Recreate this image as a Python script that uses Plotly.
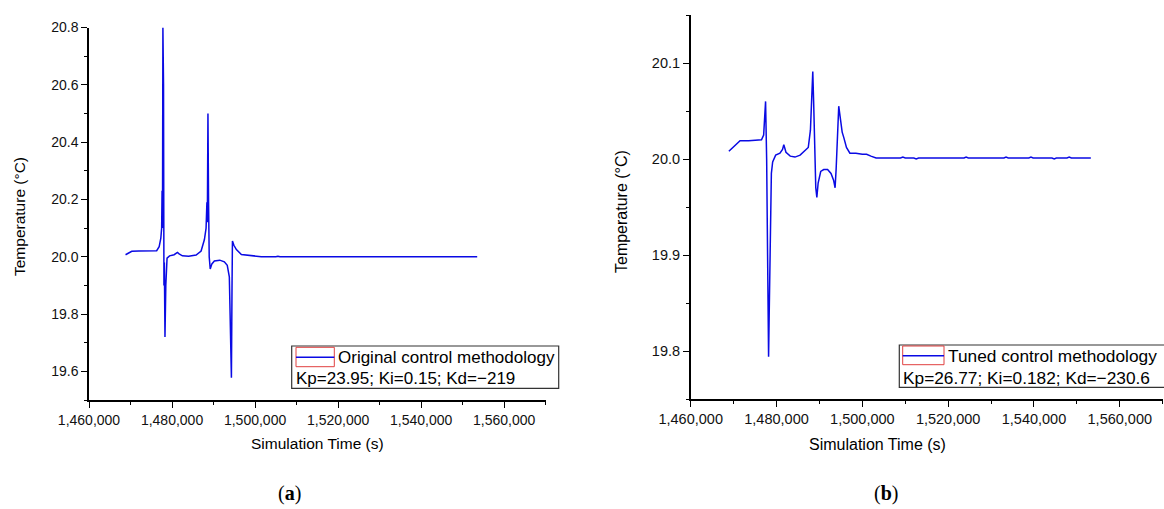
import plotly.graph_objects as go

# ---------------- data ----------------
time_a = [1468800, 1469500, 1470300, 1472000, 1474000, 1476300, 1476900, 1477300,
          1477500, 1477600, 1477700, 1477800, 1477950, 1478050, 1478150, 1478300,
          1478500, 1478800, 1479400, 1480500, 1481300, 1481700, 1482500, 1484000,
          1485800, 1487000, 1487800, 1488200, 1488400, 1488500, 1488650, 1488800,
          1488950, 1489200, 1489600, 1490200, 1491500, 1492600, 1493300, 1493800,
          1494000, 1494300, 1494450, 1494550, 1494900, 1495500, 1496700, 1498500,
          1500000, 1501500, 1505000, 1505500, 1506000, 1511000, 1511500, 1512000,
          1520600, 1521100, 1521600, 1528600, 1529100, 1529600, 1539500, 1540000,
          1540500, 1541500, 1542000, 1542500, 1553500]
temp_a = [20.007, 20.012, 20.019, 20.020, 20.020, 20.021, 20.035, 20.065,
          20.10, 20.23, 20.10, 20.80, 20.60, 19.90, 19.98, 19.72,
          19.90, 19.995, 20.003, 20.007, 20.015, 20.010, 20.003, 20.002,
          20.006, 20.02, 20.06, 20.10, 20.19, 20.12, 20.50, 20.19,
          20.00, 19.957, 19.975, 19.985, 19.988, 19.982, 19.970, 19.930,
          19.78, 19.578, 19.90, 20.055, 20.040, 20.025, 20.008, 20.005,
          20.002, 20.000, 20.000, 20.002, 20.000, 20.000, 20.002, 20.000,
          20.000, 20.002, 20.000, 20.000, 20.002, 20.000, 20.000, 20.002,
          20.000, 20.000, 20.002, 20.000, 20.000]

time_b = [1468900, 1470000, 1471500, 1473500, 1476500, 1477000, 1477450, 1477700,
          1477900, 1478150, 1478300, 1478450, 1478600, 1478800, 1479100, 1479800,
          1480800, 1481400, 1481700, 1482200, 1483200, 1484300, 1485500, 1486800,
          1487400, 1487900, 1488300, 1488450, 1488650, 1488900, 1489150, 1489400,
          1489700, 1490300, 1491000, 1491900, 1492700, 1493300, 1493650, 1493900,
          1494200, 1494500, 1494800, 1495300, 1495700, 1496300, 1497100, 1498500,
          1500000, 1501000, 1502000, 1503200, 1508900, 1509440, 1510000, 1512000,
          1512560, 1513100, 1523700, 1524190, 1524700, 1533000, 1533490, 1534000,
          1538800, 1539300, 1539800, 1544200, 1544720, 1545200, 1547700, 1548210,
          1548700, 1553250]
temp_b = [20.008, 20.013, 20.019, 20.019, 20.020, 20.025, 20.060, 20.000,
          19.900, 19.794, 19.840, 19.880, 19.950, 19.985, 19.997, 20.004,
          20.006, 20.010, 20.015, 20.007, 20.003, 20.002, 20.004, 20.009,
          20.012, 20.030, 20.070, 20.091, 20.060, 20.000, 19.970, 19.960,
          19.975, 19.987, 19.989, 19.989, 19.985, 19.978, 19.970, 19.990,
          20.030, 20.055, 20.045, 20.028, 20.022, 20.012, 20.006, 20.006,
          20.005, 20.005, 20.003, 20.001, 20.001, 20.002, 20.001, 20.001,
          20.000, 20.001, 20.001, 20.002, 20.001, 20.001, 20.002, 20.001,
          20.001, 20.002, 20.001, 20.001, 20.000, 20.001, 20.001, 20.002,
          20.001, 20.001]

legend_a = ["Original control methodology", "Kp=23.95; Ki=0.15; Kd=\u2212219"]
legend_b = ["Tuned control methodology", "Kp=26.77; Ki=0.182; Kd=\u2212230.6"]
x_title = "Simulation Time (s)"
y_title = "Temperature (\u00b0C)"
captions = ["(<b>a</b>)", "(<b>b</b>)"]

# ---------------- layout helpers ----------------
W, H = 1164, 509
def px(x):
    return x / W
def py(y):
    return 1 - y / H

LINE_COLOR = "rgb(10,10,228)"
FONT = "Liberation Sans, Arial, sans-serif"

fig = go.Figure()
fig.add_trace(go.Scatter(x=time_a, y=temp_a, mode="lines", xaxis="x", yaxis="y",
                         line=dict(color=LINE_COLOR, width=1.5), showlegend=False))
fig.add_trace(go.Scatter(x=time_b, y=temp_b, mode="lines", xaxis="x2", yaxis="y2",
                         line=dict(color=LINE_COLOR, width=1.5), showlegend=False))

def xax(domain, fs, anchor):
    return dict(domain=domain, range=[1460000, 1570000], tick0=1460000, dtick=20000,
                tickformat=",d", showgrid=False, zeroline=False, showline=True,
                anchor=anchor, automargin=False,
                linecolor="black", linewidth=1.5, ticks="outside", ticklen=6,
                tickwidth=1.3, tickcolor="black",
                minor=dict(ticks="outside", ticklen=3, dtick=10000, tickcolor="black",
                           tickwidth=1.3, showgrid=False),
                tickfont=dict(family=FONT, size=fs, color="#111"), fixedrange=True)

def yax(domain, rng, tick0, dtick, mdtick, fs, anchor):
    return dict(domain=domain, range=rng, tick0=tick0, dtick=dtick, tickformat=".1f",
                showgrid=False, zeroline=False, showline=True, anchor=anchor,
                automargin=False,
                linecolor="black", linewidth=1.5, ticks="outside", ticklen=6,
                tickwidth=1.3, tickcolor="black",
                minor=dict(ticks="outside", ticklen=3, dtick=mdtick, tickcolor="black",
                           tickwidth=1.3, showgrid=False),
                tickfont=dict(family=FONT, size=fs, color="#111"), fixedrange=True)

fig.update_layout(
    width=W, height=H,
    margin=dict(l=0, r=0, t=0, b=0, autoexpand=False),
    paper_bgcolor="white", plot_bgcolor="white",
    showlegend=False,
    xaxis=xax([px(89), px(545.7)], 14, "y"),
    yaxis=yax([py(400), py(27.5)], [19.5, 20.8], 19.6, 0.2, 0.1, 14, "x"),
    xaxis2=xax([px(690.7), px(1162.7)], 14.5, "y2"),
    yaxis2=yax([py(399), py(15)], [19.75, 20.15], 19.8, 0.1, 0.05, 14.5, "x2"),
)

annotations = []
shapes = []

def add_text(x, y, text, size, xanchor="center", angle=0, family=FONT):
    annotations.append(dict(x=px(x), y=py(y), xref="paper", yref="paper", text=text,
                            showarrow=False, xanchor=xanchor, yanchor="middle",
                            textangle=angle, font=dict(family=family, size=size, color="black")))

# axis titles
add_text(19, 217, y_title, 15.5, angle=-90)
add_text(317, 443, x_title, 15.5)
add_text(621, 212, y_title, 16, angle=-90)
add_text(877, 444, x_title, 16)

# captions
add_text(289.5, 493, captions[0], 20, family="Liberation Serif, Times New Roman, serif")
add_text(886, 493, captions[1], 20, family="Liberation Serif, Times New Roman, serif")

def add_legend(box, red, line_y, t1, t2, y2, fs):
    bx0, by0, bx1, by1 = box
    shapes.append(dict(type="rect", xref="paper", yref="paper",
                       x0=px(bx0), x1=px(bx1), y0=py(by1), y1=py(by0),
                       line=dict(color="#333", width=1.2), fillcolor="white"))
    rx0, ry0, rx1, ry1 = red
    shapes.append(dict(type="rect", xref="paper", yref="paper",
                       x0=px(rx0), x1=px(rx1), y0=py(ry1), y1=py(ry0),
                       line=dict(color="#e04040", width=1)))
    shapes.append(dict(type="line", xref="paper", yref="paper",
                       x0=px(rx0), x1=px(rx1), y0=py(line_y), y1=py(line_y),
                       line=dict(color=LINE_COLOR, width=1.5)))
    add_text(rx1 + 2, line_y, t1, fs, xanchor="left")
    add_text(rx0 - 2, y2, t2, fs, xanchor="left")

add_legend((291.7, 346, 558.7, 388.3), (296, 347.3, 334.3, 366.7), 357.3,
           legend_a[0], legend_a[1], 378.3, 17)
add_legend((899.3, 345, 1170, 387.3), (902.7, 346, 944, 364.7), 355.7,
           legend_b[0], legend_b[1], 378.3, 17.3)

fig.update_layout(annotations=annotations, shapes=shapes)

fig.write_html("out.html")
